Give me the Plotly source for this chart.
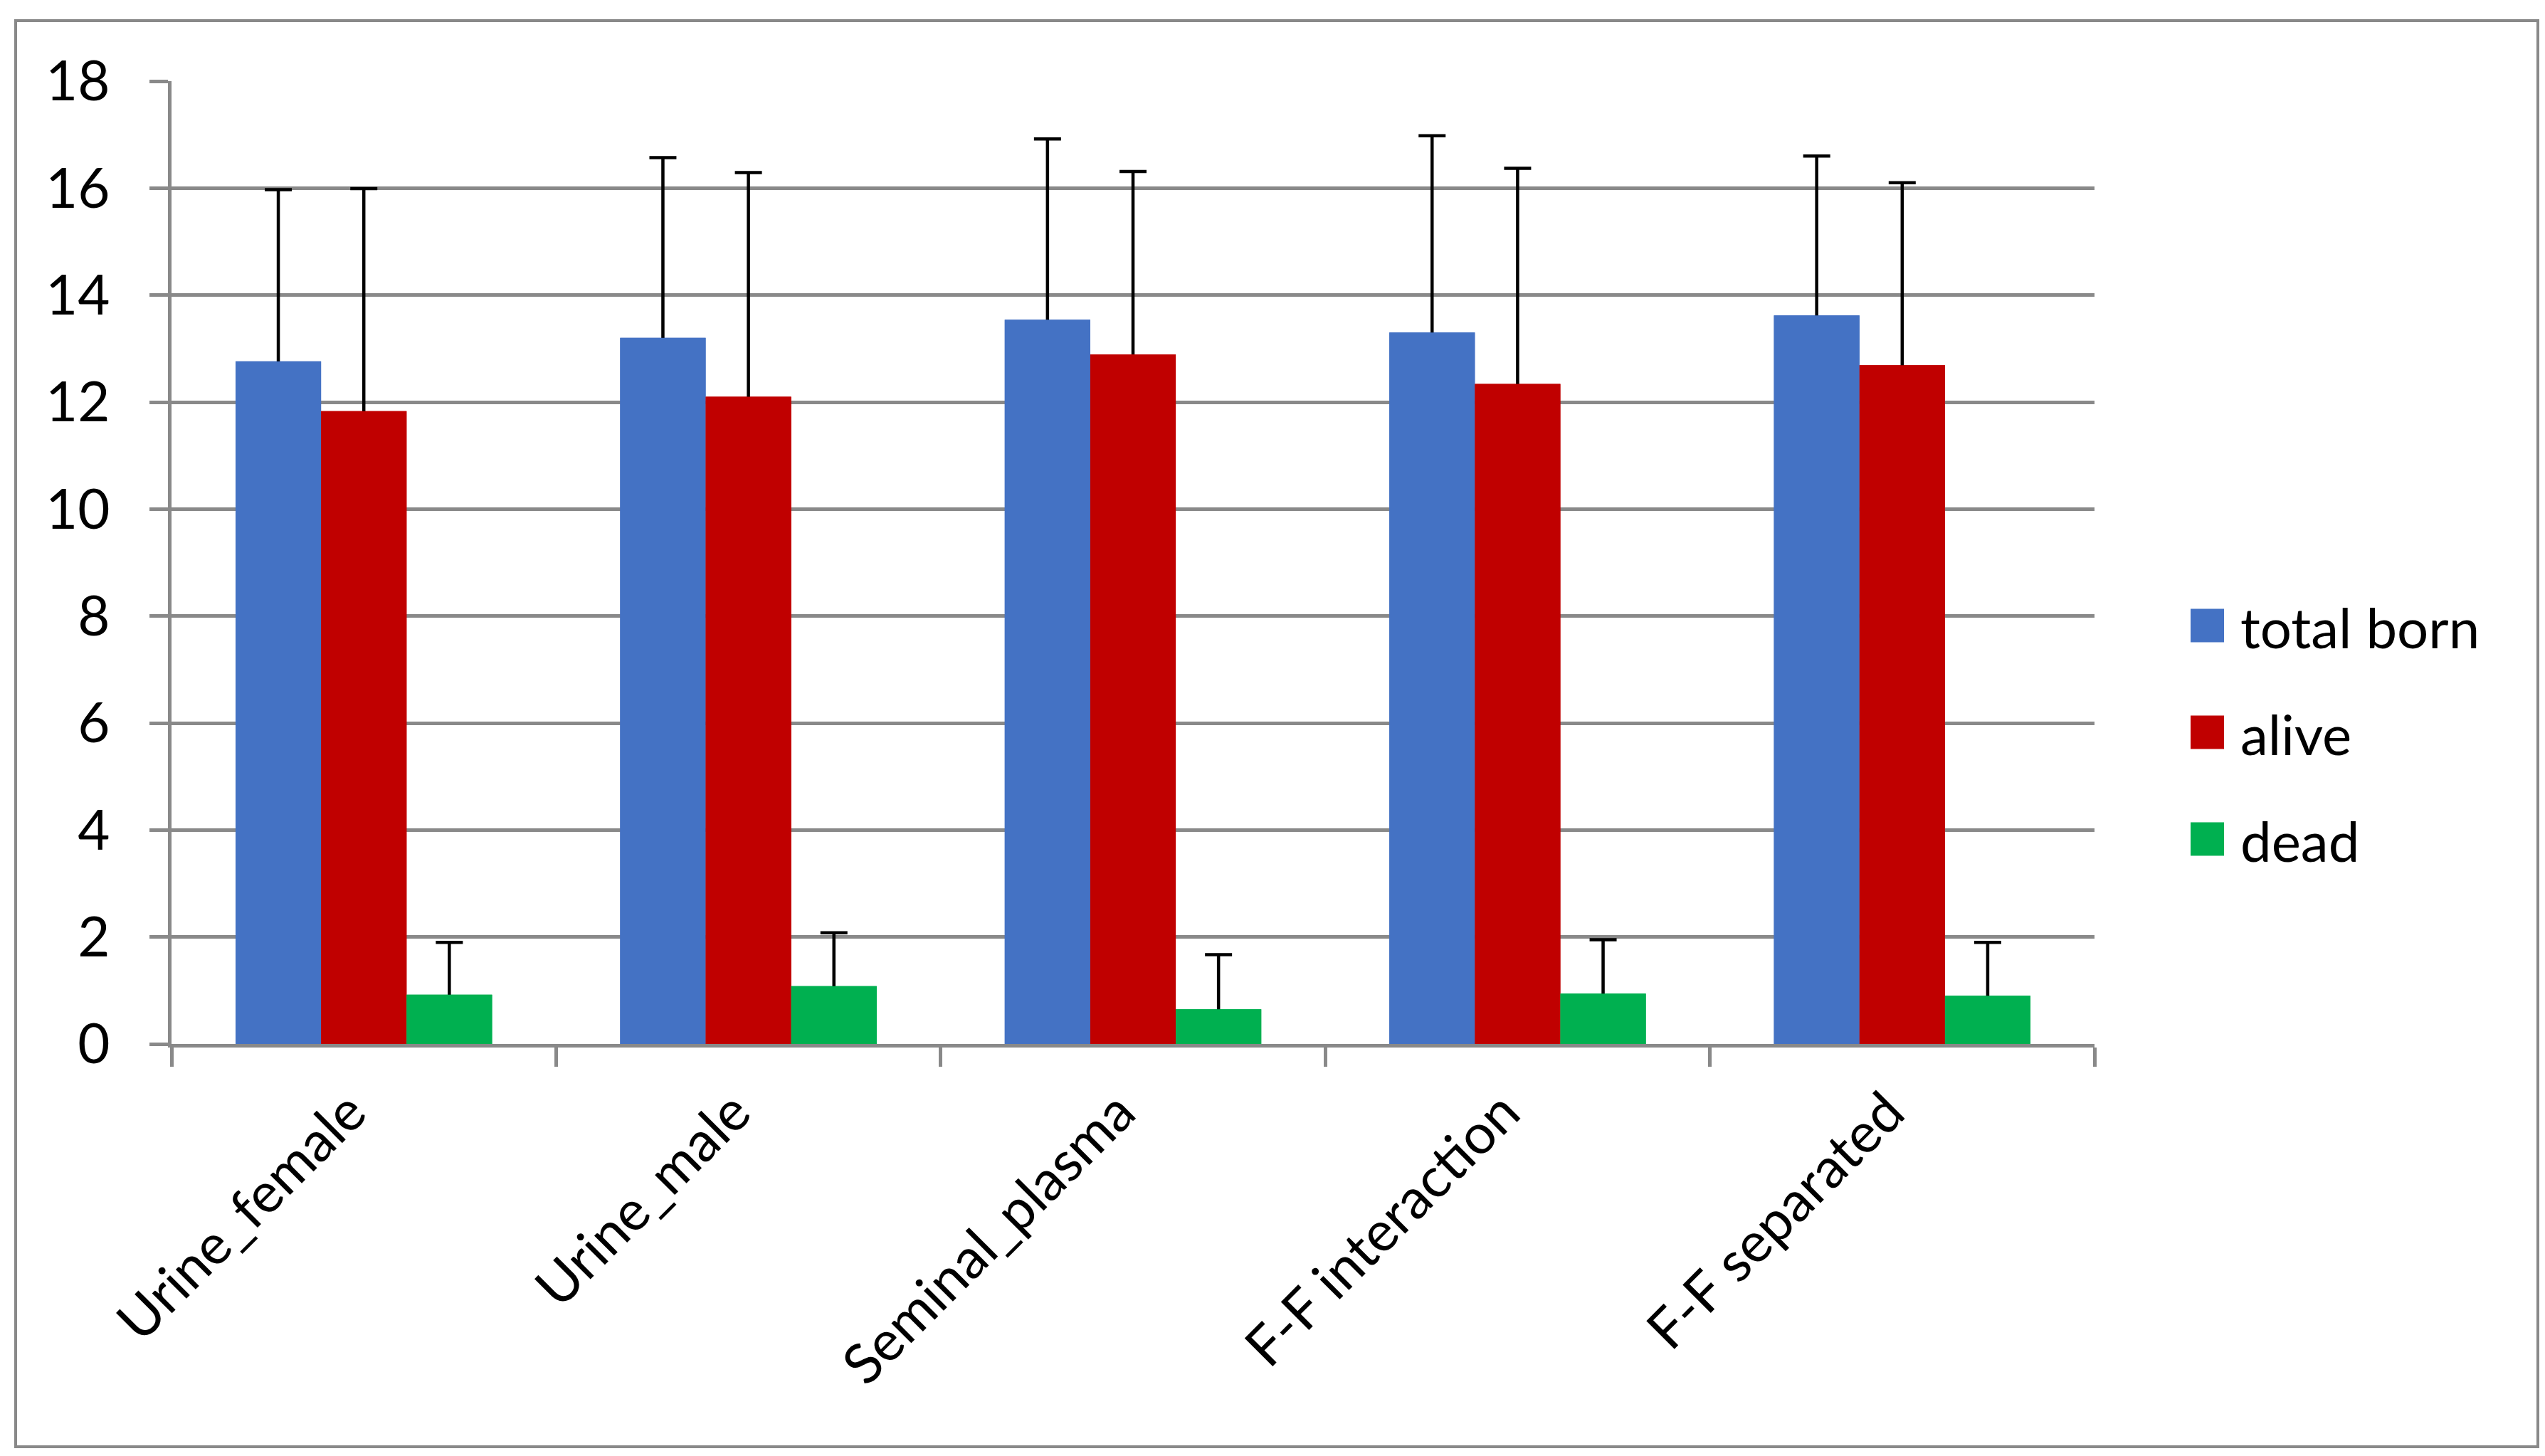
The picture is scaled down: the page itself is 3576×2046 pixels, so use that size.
import plotly.graph_objects as go

categories = ["Urine_female", "Urine_male", "Seminal_plasma", "F-F interaction", "F-F separated"]
series_names = ["total born", "alive", "dead"]
total_born = [12.76, 13.20, 13.54, 13.30, 13.62]
total_born_err = [3.21, 3.37, 3.38, 3.68, 2.98]
alive = [11.83, 12.10, 12.89, 12.34, 12.69]
alive_err = [4.16, 4.19, 3.42, 4.03, 3.41]
dead = [0.92, 1.08, 0.65, 0.94, 0.90]
dead_err = [0.98, 1.00, 1.02, 1.01, 1.00]
colors = ["#4472C4", "#C00000", "#00B050"]
y_ticks = [0, 2, 4, 6, 8, 10, 12, 14, 16, 18]

FONT = "Lato, 'Open Sans', sans-serif"
FS = 78
GRID = "#898989"

series_vals = [total_born, alive, dead]
series_errs = [total_born_err, alive_err, dead_err]

fig = go.Figure()
# bars carrying the (upper) error bars
for name, vals, errs, col in zip(series_names, series_vals, series_errs, colors):
    fig.add_trace(go.Bar(
        x=categories, y=vals, name=name, offsetgroup=name, showlegend=False,
        marker=dict(color=col, line=dict(width=0)),
        error_y=dict(type="data", array=errs, symmetric=False, arrayminus=vals,
                     color="black", thickness=4.5, width=19),
    ))
# same bars drawn again on top so only the part of the error bar above each bar shows
for name, vals, col in zip(series_names, series_vals, colors):
    fig.add_trace(go.Bar(
        x=categories, y=vals, name=name, offsetgroup=name, showlegend=False,
        marker=dict(color=col, line=dict(width=0)), hoverinfo="skip",
    ))

W, H = 3576, 2046
L, R, T, B = 233, 2935, 106, 1459
pw, ph = R - L, B - T

def px(xp):
    return (xp - L) / pw

def py(yp):
    return (B - yp) / ph

shapes = [dict(type="rect", xref="paper", yref="paper",
               x0=px(14), x1=px(3558), y0=py(2025), y1=py(21),
               line=dict(color=GRID, width=4), fillcolor="rgba(0,0,0,0)", layer="below")]
annotations = []
# legend (square swatch + label)
LEG_X, LEG_Y0, LEG_STEP, SW = 3070, 871, 150, 47
for i, (name, col) in enumerate(zip(series_names, colors)):
    cy = LEG_Y0 + LEG_STEP * i
    shapes.append(dict(type="rect", xref="paper", yref="paper",
                       x0=px(LEG_X), x1=px(LEG_X + SW), y0=py(cy + SW / 2), y1=py(cy - SW / 2),
                       line=dict(width=0), fillcolor=col))
    annotations.append(dict(xref="paper", yref="paper", x=px(LEG_X + 68), y=py(cy + 2),
                            xanchor="left", yanchor="middle", text=name, showarrow=False,
                            font=dict(family=FONT, size=FS, color="black")))

fig.update_layout(
    width=W, height=H,
    margin=dict(l=L, r=W - R, t=T, b=H - B, autoexpand=False),
    paper_bgcolor="white", plot_bgcolor="white",
    barmode="group", bargap=0.333, bargroupgap=0,
    font=dict(family=FONT, size=FS, color="black"),
    showlegend=False,
    xaxis=dict(
        type="category", tickangle=-45, showgrid=False,
        showline=True, linecolor=GRID, linewidth=5,
        ticks="outside", tickson="boundaries", ticklen=27, tickwidth=5, tickcolor=GRID,
        tickfont=dict(size=FS, color="black"), ticklabelstandoff=14, ticklabelshift=-20,
    ),
    yaxis=dict(
        range=[0, 18], tickvals=y_ticks, showgrid=True, gridcolor=GRID, gridwidth=5,
        zeroline=False, showline=True, linecolor=GRID, linewidth=5,
        ticks="outside", ticklen=26, tickwidth=5, tickcolor=GRID,
        tickfont=dict(size=FS, color="black"), ticklabelstandoff=40,
    ),
    shapes=shapes,
    annotations=annotations,
)

fig.write_html("out.html")
